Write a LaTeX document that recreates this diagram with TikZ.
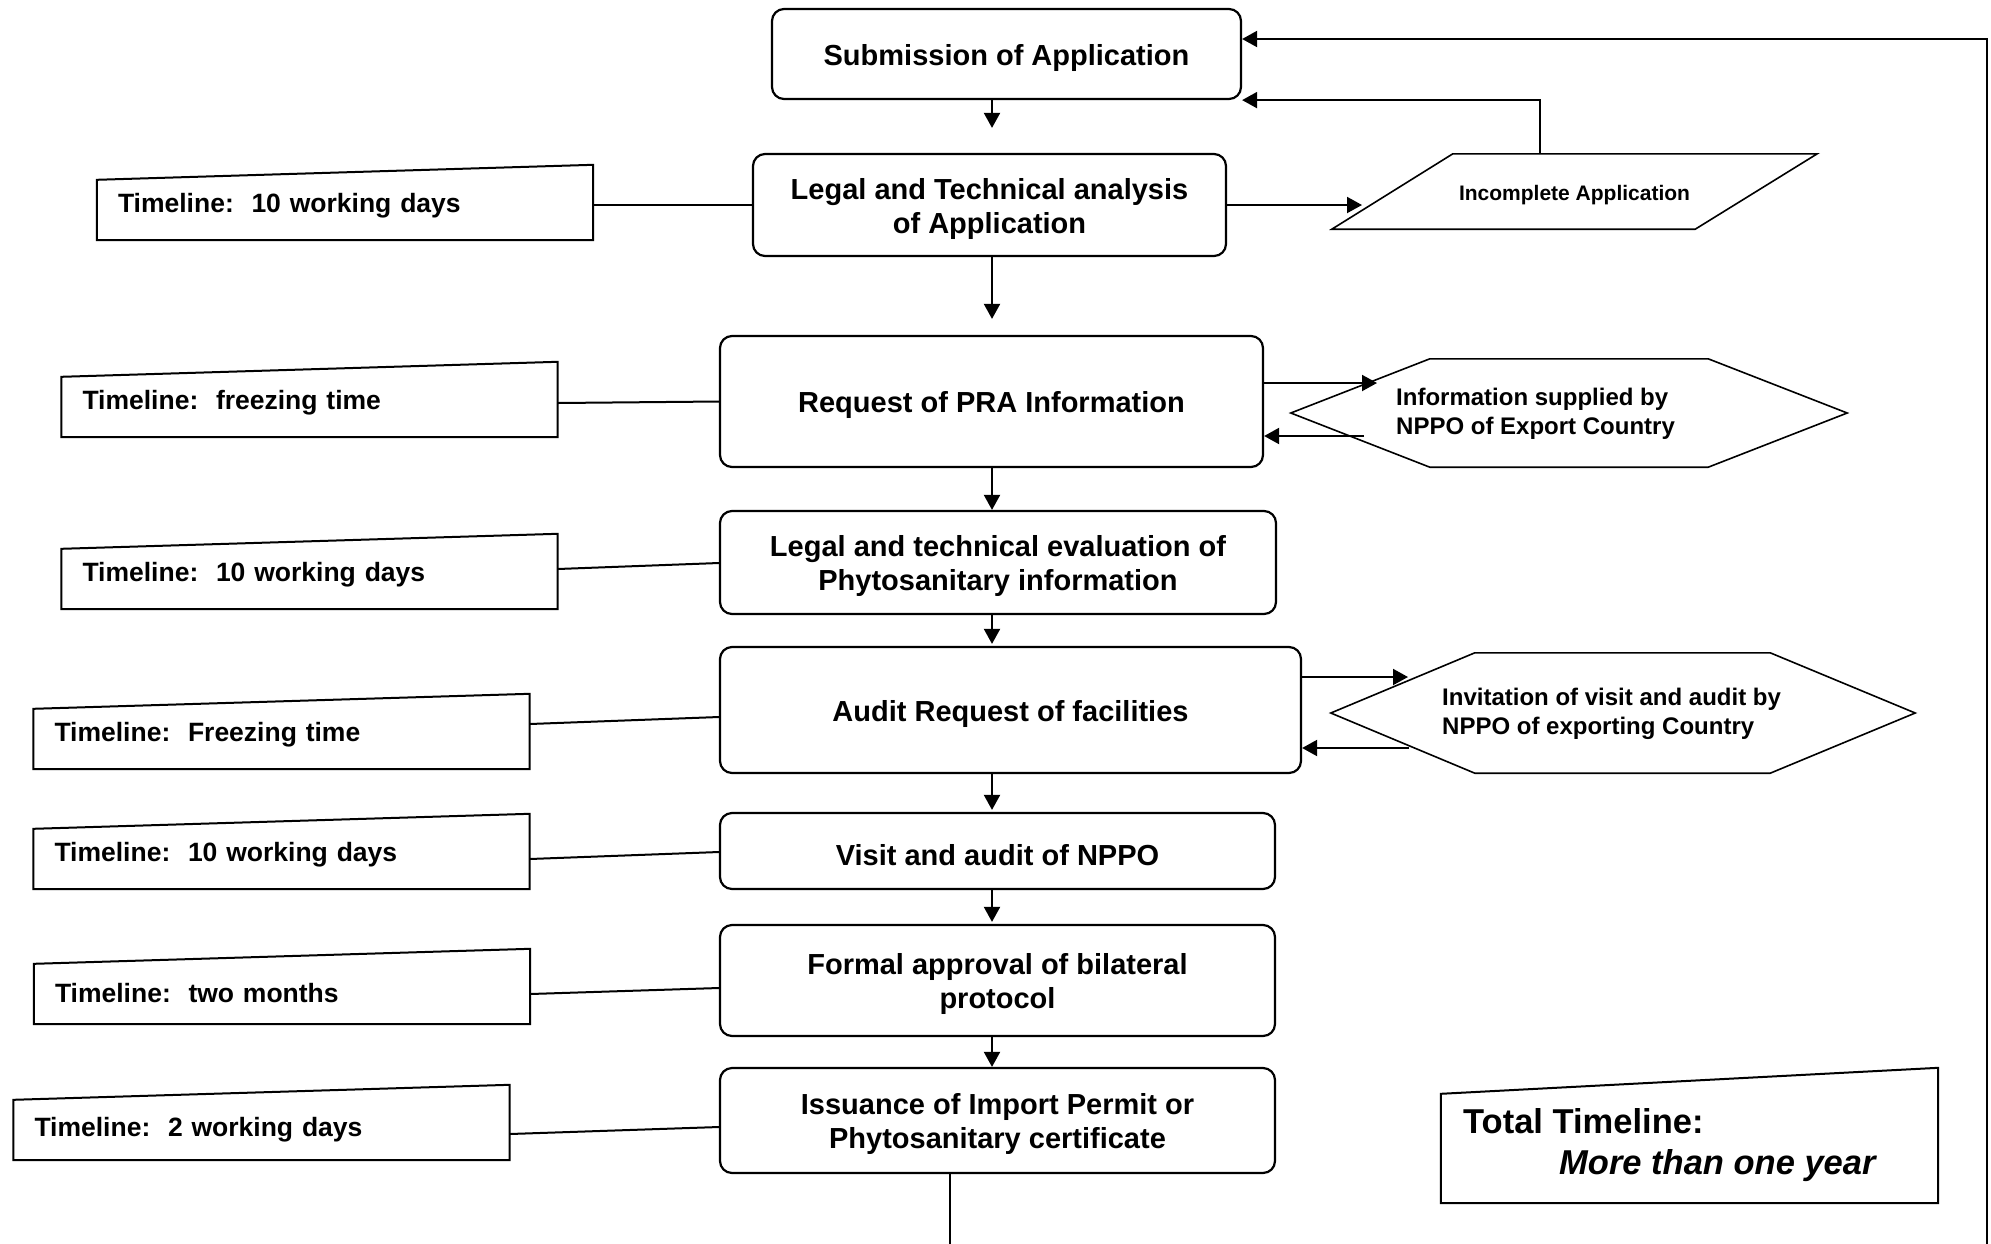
\documentclass[tikz,border=0pt]{standalone}
\usepackage{fontspec}
\setmainfont{Liberation Sans}
\usetikzlibrary{arrows.meta,calc}
\newcommand\liftline{\rule{0pt}{28.5pt}}
\begin{document}
\begin{tikzpicture}[x=1pt,y=-1pt,
  proc/.style={draw, line width=2.2pt, rounded corners=12pt, align=center, inner sep=0pt,
    font=\fontsize{29}{34}\selectfont\bfseries,
    execute at begin node={\rule{0pt}{28.5pt}}},
  arr/.style={-{Triangle[length=15pt,width=16pt]}, line width=2pt},
  link/.style={line width=2pt},
  tlbox/.style={inner xsep=21pt, inner ysep=0pt, align=left, minimum height=75pt,
    text width=454pt, font=\fontsize{26.5}{31}\selectfont\bfseries,
    execute at begin node={\rule{0pt}{26.5pt}}},
  tlline/.style={line width=2pt, line join=miter},
  shapeline/.style={line width=1.6pt, line join=miter},
  sidetext/.style={anchor=west, align=left, inner sep=0pt,
    font=\fontsize{24}{29}\selectfont\bfseries}]
\useasboundingbox (0,0) rectangle (1991,1243);
\clip (0,0) rectangle (1991,1243);
\fill[white] (0,0) rectangle (1991,1243);

% helper coordinates
\coordinate (colx) at (992,0);
\coordinate (fbx) at (950,0);
\coordinate (loopB) at (1987,1300);
\coordinate (loopT) at (0,39);

% main process boxes
\node[proc, minimum width=469pt, minimum height=90pt] (sub) at (1006.5,54) {Submission of Application};
\node[proc, minimum width=473pt, minimum height=102pt] (lta) at (989.5,205) {\liftline Legal and Technical analysis\\of Application};
\node[proc, minimum width=543pt, minimum height=131pt] (pra) at (991.5,401.5) {Request of PRA Information};
\node[proc, minimum width=556pt, minimum height=103pt] (lte) at (998,562.5) {\liftline Legal and technical evaluation of\\Phytosanitary information};
\node[proc, minimum width=581pt, minimum height=126pt] (aud) at (1010.5,710) {Audit Request of facilities};
\node[proc, minimum width=555pt, minimum height=76pt] (vis) at (997.5,851) {Visit and audit of NPPO};
\node[proc, minimum width=555pt, minimum height=111pt] (fap) at (997.5,980.5) {\liftline Formal approval of bilateral\\protocol};
\node[proc, minimum width=555pt, minimum height=105pt] (iss) at (997.5,1120.5) {\liftline Issuance of Import Permit or\\Phytosanitary certificate};

% main column arrows
\draw[arr, shorten >=25pt] (sub.south -| colx) -- (lta.north -| colx);
\draw[arr, shorten >=16pt] (lta.south -| colx) -- (pra.north -| colx);
\draw[arr] (pra.south -| colx) -- (lte.north -| colx);
\draw[arr, shorten >=2pt] (lte.south -| colx) -- (aud.north -| colx);
\draw[arr, shorten >=2pt] (aud.south -| colx) -- (vis.north -| colx);
\draw[arr, shorten >=2pt] (vis.south -| colx) -- (fap.north -| colx);
\draw[arr] (fap.south -| colx) -- (iss.north -| colx);

% timeline boxes (manual input shape)
\node[tlbox] (tl1) at (345,202.5) {Timeline:\ \ 10 working days};
\node[tlbox] (tl2) at (309.5,399.5) {Timeline:\ \ freezing time};
\node[tlbox] (tl3) at (309.5,571.5) {Timeline:\ \ 10 working days};
\node[tlbox] (tl4) at (281.5,731.5) {Timeline:\ \ Freezing time};
\node[tlbox] (tl5) at (281.5,851.5) {Timeline:\ \ 10 working days};
\node[tlbox] (tl6) at (282,986.5) {\rule{0pt}{32.5pt}Timeline:\ \ two months};
\node[tlbox] (tl7) at (261.5,1122.5) {\rule{0pt}{34.5pt}Timeline:\ \ 2 working days};
\foreach \t in {tl1,tl2,tl3,tl4,tl5,tl6,tl7}{
  \draw[tlline] (\t.south west) -- (\t.south east) -- (\t.north east) -- ($(\t.north west)+(0,15)$) -- cycle;
}

% timeline connectors
\draw[link] ($(tl1.east)+(0,2.5)$) -- (lta.west);
\draw[link] ($(tl2.east)+(0,3.5)$) -- (pra.west);
\draw[link] ($(tl3.east)+(0,-2.5)$) -- ($(lte.west)+(0,0.5)$);
\draw[link] ($(tl4.east)+(0,-7.5)$) -- ($(aud.west)+(0,7)$);
\draw[link] ($(tl5.east)+(0,7.5)$) -- ($(vis.west)+(0,1)$);
\draw[link] ($(tl6.east)+(0,7.5)$) -- ($(fap.west)+(0,7.5)$);
\draw[link] ($(tl7.east)+(0,11.5)$) -- ($(iss.west)+(0,6.5)$);

% incomplete application (parallelogram)
\node[minimum width=485pt, minimum height=75pt, inner sep=0pt,
  font=\fontsize{21}{25}\selectfont\bfseries,
  execute at begin node={\rule{0pt}{22pt}}] (inc) at (1574.5,191.5) {Incomplete Application};
\draw[shapeline] (inc.south west) -- ($(inc.south east)+(-122,0)$) -- (inc.north east)
  -- ($(inc.north west)+(121,0)$) -- cycle;
\coordinate (incL) at (1362,205);
\coordinate (incT) at (1540,154);
\draw[arr] (lta.east) -- (incL);
\draw[arr] (incT) -- (incT |- sub.south) -- (sub.south east);

% hexagon 1
\node[minimum width=556pt, minimum height=108pt, inner sep=0pt] (hx1) at (1569,413) {};
\draw[shapeline] (hx1.west) -- ($(hx1.north west)+(139,0)$) -- ($(hx1.north east)+(-139,0)$)
  -- (hx1.east) -- ($(hx1.south east)+(-139,0)$) -- ($(hx1.south west)+(139,0)$) -- cycle;
\node[sidetext] (hx1t) at (1396,414) {Information supplied by\\NPPO of Export Country};
\coordinate (hx1in) at (1377,383);
\coordinate (hx1out) at (1364,436);
\draw[arr] (pra.east |- hx1in) -- (hx1in);
\draw[arr] (hx1out) -- (pra.east |- hx1out);

% hexagon 2
\node[minimum width=584pt, minimum height=120pt, inner sep=0pt] (hx2) at (1623,713) {};
\draw[shapeline] (hx2.west) -- ($(hx2.north west)+(144,0)$) -- ($(hx2.north east)+(-145,0)$)
  -- (hx2.east) -- ($(hx2.south east)+(-145,0)$) -- ($(hx2.south west)+(144,0)$) -- cycle;
\node[sidetext] (hx2t) at (1442,714) {Invitation of visit and audit by\\NPPO of exporting Country};
\coordinate (hx2in) at (1408,677);
\coordinate (hx2out) at (1409,748);
\draw[arr] (aud.east |- hx2in) -- (hx2in);
\draw[arr] (hx2out) -- (aud.east |- hx2out);

% total timeline box
\node[minimum width=497pt, minimum height=135pt, inner sep=0pt] (tot) at (1689.5,1135.5) {};
\draw[tlline] (tot.south west) -- (tot.south east) -- (tot.north east) -- ($(tot.north west)+(0,26)$) -- cycle;
\node[anchor=west, align=left, inner sep=0pt, font=\fontsize{34.5}{41}\selectfont\bfseries]
  (totx) at (1463,1145.5) {Total Timeline:\\\hspace*{96pt}\textit{More than one year}};

% feedback loop
\draw[arr] (iss.south -| fbx) -- (fbx |- loopB) -- (loopB) -- (loopB |- loopT) -- (sub.east |- loopT);
\end{tikzpicture}
\end{document}
